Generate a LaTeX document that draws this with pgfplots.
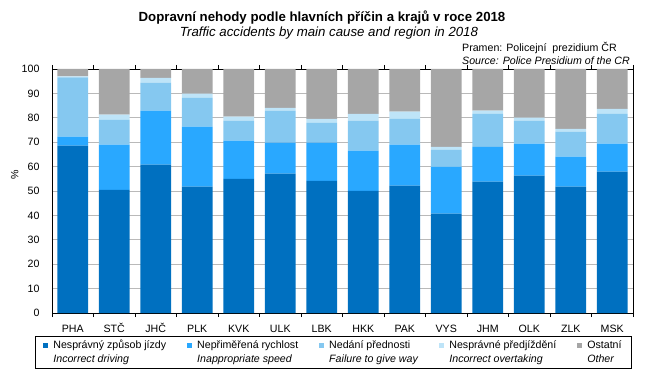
\documentclass[border=0pt]{standalone}
\usepackage{fontspec}
\setmainfont{Liberation Sans}
\usepackage{pgfplots}
\pgfplotsset{compat=1.18}
\definecolor{cA}{RGB}{0,112,192}
\definecolor{cB}{RGB}{41,168,255}
\definecolor{cC}{RGB}{133,200,240}
\definecolor{cD}{RGB}{190,228,248}
\definecolor{cE}{RGB}{166,166,166}
\definecolor{gridc}{RGB}{185,185,185}
\begin{document}
\begin{tikzpicture}[x=1bp,y=1bp]
\path (0,0) rectangle (656,382);
\node[font=\bfseries\fontsize{13.3}{15}\selectfont] at (322,364) {Dopravní nehody podle hlavních příčin a krajů v roce 2018};
\node[font=\itshape\fontsize{13.3}{15}\selectfont] at (329,349) {Traffic accidents by main cause and region in 2018};
\node[anchor=base west, inner sep=0pt, font=\fontsize{10.67}{12}\selectfont] at (462,331) {Pramen: Policejní\ \ prezidium ČR};
\node[anchor=base west, inner sep=0pt, font=\itshape\fontsize{10.67}{12}\selectfont] at (462,318) {Source: Police Presidium of the CR};
\begin{axis}[
  at={(52bp,69bp)}, anchor=south west,
  scale only axis, width=581bp, height=244bp,
  ybar stacked, bar width=0.74,
  xmin=0, xmax=14, ymin=0, ymax=100,
  ytick={0,10,...,100},
  xtick={0.5,1.5,...,13.5},
  xticklabels={PHA,STČ,JHČ,PLK,KVK,ULK,LBK,HKK,PAK,VYS,JHM,OLK,ZLK,MSK},
  minor xtick={0,1,...,14},
  tick align=outside,
  major tick length=4bp, minor tick length=4bp,
  major x tick style={draw=none},
  y tick style={draw=none},
  minor x tick style={black, line width=0.6pt},
  ymajorgrids, grid style={color=gridc, line width=0.8pt},
  axis line style={black, line width=0.8pt},
  set layers,
  /pgf/number format/assume math mode=true,
  tick label style={font=\fontsize{10.67}{12}\selectfont},
  xticklabel style={text height=8bp, text depth=0bp, yshift=-3.5bp},
  yticklabel style={xshift=-5bp},
  ylabel={\%},
  ylabel style={at={(axis description cs:-0.064,0.566)}, anchor=center, font=\fontsize{10.67}{12}\selectfont},
  legend columns=5,
  legend style={at={(0.4845,-0.094)}, anchor=north, draw=black, line width=0.6pt,
    font=\fontsize{10.67}{13}\selectfont, inner xsep=8bp, inner ysep=2bp,
    /tikz/every odd column/.append style={column sep=3bp},
    /tikz/every even column/.append style={column sep=19bp},
    cells={anchor=base west, text height=8.5bp, text depth=2.5bp, inner ysep=1bp}},
]
\addplot[fill=cA, draw=none, legend image code/.code={\fill[cA] (0bp,1bp) rectangle (5bp,6bp);}] coordinates {
(0.5,68.6) (1.5,50.5) (2.5,60.8) (3.5,51.8) (4.5,55.0) (5.5,57.1) (6.5,54.2)
(7.5,50.1) (8.5,52.2) (9.5,40.7) (10.5,53.8) (11.5,56.3) (12.5,51.8) (13.5,57.9)};
\addlegendentry{Nesprávný způsob jízdy}
\addplot[fill=cB, draw=none, legend image code/.code={\fill[cB] (0bp,1bp) rectangle (5bp,6bp);}] coordinates {
(0.5,3.7) (1.5,18.5) (2.5,22.1) (3.5,24.6) (4.5,15.6) (5.5,12.7) (6.5,15.6)
(7.5,16.4) (8.5,16.8) (9.5,19.2) (10.5,14.3) (11.5,13.1) (12.5,12.3) (13.5,11.5)};
\addlegendentry{Nepřiměřená rychlost}
\addplot[fill=cC, draw=none, legend image code/.code={\fill[cC] (0bp,1bp) rectangle (5bp,6bp);}] coordinates {
(0.5,24.3) (1.5,10.2) (2.5,11.5) (3.5,11.8) (4.5,8.2) (5.5,13.1) (6.5,8.1)
(7.5,12.3) (8.5,10.6) (9.5,7.0) (10.5,13.5) (11.5,9.4) (12.5,10.2) (13.5,12.2)};
\addlegendentry{Nedání přednosti}
\addplot[fill=cD, draw=none, legend image code/.code={\fill[cD] (0bp,1bp) rectangle (5bp,6bp);}] coordinates {
(0.5,0.4) (1.5,2.1) (2.5,2.0) (3.5,1.7) (4.5,1.7) (5.5,1.2) (6.5,1.7)
(7.5,2.8) (8.5,2.9) (9.5,1.2) (10.5,1.3) (11.5,1.3) (12.5,1.2) (13.5,2.1)};
\addlegendentry{Nesprávné předjíždění}
\addplot[fill=cE, draw=none, legend image code/.code={\fill[cE] (0bp,1bp) rectangle (5bp,6bp);}] coordinates {
(0.5,3.0) (1.5,18.7) (2.5,3.6) (3.5,10.1) (4.5,19.5) (5.5,15.9) (6.5,20.4)
(7.5,18.4) (8.5,17.5) (9.5,31.9) (10.5,17.1) (11.5,19.9) (12.5,24.5) (13.5,16.3)};
\addlegendentry{Ostatní}
\addlegendimage{empty legend}\addlegendentry{\textit{Incorrect driving}}
\addlegendimage{empty legend}\addlegendentry{\textit{Inappropriate speed}}
\addlegendimage{empty legend}\addlegendentry{\textit{Failure to give way}}
\addlegendimage{empty legend}\addlegendentry{\textit{Incorrect overtaking}}
\addlegendimage{empty legend}\addlegendentry{\textit{Other}}
\end{axis}
\end{tikzpicture}
\end{document}
